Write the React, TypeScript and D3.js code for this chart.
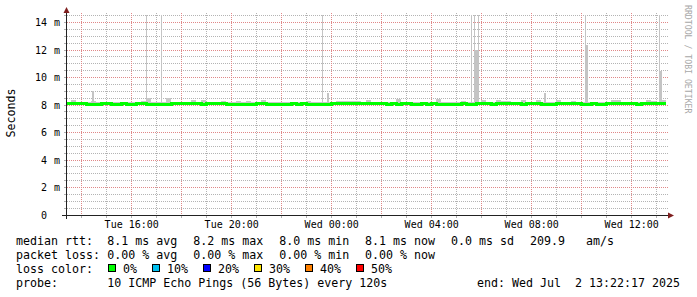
import React from "react";
import * as d3 from "d3";

// ---------- data ----------
const START = "2025-07-01T13:22:17Z";
const END = "2025-07-02T13:22:17Z";
const BUCKET_MINUTES = 12;

const medianRtt = [
  8.10, 8.10, 8.09, 8.09, 8.06, 8.04, 8.07, 8.08, 8.10, 8.06, 8.05, 8.08, 8.07, 8.06, 8.09, 8.08, 8.05, 8.04, 8.03, 8.05, 8.04, 8.08, 8.10, 8.11, 8.09, 8.08, 8.10, 8.07, 8.08, 8.09,
  8.08, 8.09, 8.07, 8.05, 8.04, 8.06, 8.07, 8.05, 8.08, 8.09, 8.07, 8.04, 8.03, 8.06, 8.07, 8.08, 8.07, 8.08, 8.06, 8.05, 8.02, 8.04, 8.06, 8.09, 8.12, 8.13, 8.12, 8.14, 8.13, 8.12,
  8.13, 8.11, 8.10, 8.09, 8.07, 8.08, 8.07, 8.09, 8.08, 8.06, 8.07, 8.08, 8.07, 8.08, 8.06, 8.07, 8.05, 8.04, 8.07, 8.08, 8.06, 8.07, 8.09, 8.10, 8.08, 8.06, 8.09, 8.11, 8.12, 8.09,
  8.08, 8.07, 8.10, 8.11, 8.09, 8.07, 8.06, 8.05, 8.08, 8.09, 8.10, 8.11, 8.09, 8.06, 8.07, 8.08, 8.07, 8.06, 8.08, 8.09, 8.11, 8.10, 8.09, 8.08, 8.07, 8.09, 8.10, 8.11, 8.09, 8.10,
];

const smokeHigh = [
  8.24, 8.36, 8.22, 8.20, 8.22, 8.26, 8.21, 8.24, 8.22, 8.20, 8.23, 8.21, 8.24, 8.20, 8.22, 8.26, 8.50, 8.24, 8.20, 8.22,
  8.49, 8.23, 8.25, 8.22, 8.24, 8.40, 8.22, 8.35, 8.24, 8.22, 8.21, 8.30, 8.22, 8.20, 8.30, 8.21, 8.30, 8.22, 8.24, 8.40,
  8.24, 8.20, 8.19, 8.22, 8.21, 8.23, 8.22, 8.24, 8.30, 8.22, 8.20, 8.19, 8.22, 8.24, 8.26, 8.30, 8.27, 8.28, 8.26, 8.25,
  8.35, 8.25, 8.24, 8.22, 8.21, 8.23, 8.45, 8.24, 8.22, 8.21, 8.22, 8.23, 8.21, 8.22, 8.46, 8.22, 8.20, 8.19, 8.22, 8.30,
  8.22, 8.21, 8.24, 8.35, 8.24, 8.22, 8.35, 8.26, 8.27, 8.24, 8.22, 8.40, 8.24, 8.25, 8.35, 8.22, 8.21, 8.20, 8.40, 8.24,
  8.25, 8.26, 8.24, 8.21, 8.22, 8.23, 8.22, 8.21, 8.22, 8.35, 8.40, 8.25, 8.24, 8.23, 8.22, 8.24, 8.35, 8.26, 8.24, 8.40,
];

const smokeLow = [
  7.98, 7.97, 7.99, 7.98, 7.96, 7.94, 7.97, 7.98, 7.99, 7.96, 7.95, 7.98, 7.97, 7.96, 7.99, 7.98, 7.95, 7.94, 7.93, 7.95,
  7.94, 7.98, 7.99, 8.00, 7.99, 7.98, 7.99, 7.97, 7.98, 7.99, 7.98, 7.99, 7.97, 7.95, 7.94, 7.96, 7.97, 7.95, 7.98, 7.99,
  7.97, 7.94, 7.93, 7.96, 7.97, 7.98, 7.97, 7.98, 7.96, 7.95, 7.92, 7.94, 7.96, 7.98, 8.00, 8.01, 8.00, 8.02, 8.01, 8.00,
  8.01, 8.00, 7.99, 7.98, 7.96, 7.97, 7.96, 7.98, 7.97, 7.95, 7.96, 7.97, 7.96, 7.97, 7.95, 7.96, 7.94, 7.93, 7.96, 7.97,
  7.95, 7.96, 7.98, 7.99, 7.97, 7.95, 7.98, 8.00, 8.01, 7.98, 7.97, 7.96, 7.99, 8.00, 7.98, 7.96, 7.95, 7.94, 7.97, 7.98,
  7.99, 8.00, 7.98, 7.95, 7.96, 7.97, 7.96, 7.95, 7.97, 7.98, 8.00, 7.99, 7.98, 7.97, 7.96, 7.98, 7.99, 8.00, 7.98, 7.99,
];

const spikeStarts = [
  "2025-07-01T14:24:36Z", "2025-07-01T16:34:48Z", "2025-07-01T17:10:00Z", "2025-07-01T23:37:00Z",
  "2025-07-01T23:49:00Z", "2025-07-02T05:35:00Z", "2025-07-02T05:42:36Z", "2025-07-02T05:50:00Z",
  "2025-07-02T05:42:36Z", "2025-07-02T08:29:00Z", "2025-07-02T10:09:00Z", "2025-07-02T10:09:00Z",
  "2025-07-02T13:05:00Z", "2025-07-02T13:05:00Z",
];
const spikeEnds = [
  "2025-07-01T14:29:24Z", "2025-07-01T16:37:12Z", "2025-07-01T17:12:24Z", "2025-07-01T23:39:24Z",
  "2025-07-01T23:53:48Z", "2025-07-02T05:37:24Z", "2025-07-02T05:45:00Z", "2025-07-02T05:52:24Z",
  "2025-07-02T05:52:24Z", "2025-07-02T08:33:48Z", "2025-07-02T10:11:24Z", "2025-07-02T10:16:12Z",
  "2025-07-02T13:07:24Z", "2025-07-02T13:12:12Z",
];
const spikeTops = [8.99, 15, 15, 15, 8.87, 15, 15, 15, 12.0, 8.9, 15, 12.4, 15, 10.45];

const yTicks = [0, 2, 4, 6, 8, 10, 12, 14];
const Y_MAX = 14.55;

const rttLabels = ["median rtt:", "8.1 ms avg", "8.2 ms max", "8.0 ms min", "8.1 ms now", "0.0 ms sd", "209.9", "am/s"];
const lossLabels = ["packet loss:", "0.00 % avg", "0.00 % max", "0.00 % min", "0.00 % now"];
const lossColorTitle = "loss color:";
const lossColorNames = ["0%", "10%", "20%", "30%", "40%", "50%"];
const lossColors = ["#00ff00", "#00c0f0", "#0000ff", "#ffe600", "#ff8000", "#ff0000"];
const probeLabels = ["probe:", "10 ICMP Echo Pings (56 Bytes) every 120s", "end: Wed Jul\u00A0\u00A02 13:22:17 2025"];

// ---------- layout ----------
const W = 697;
const H = 297;
const X0 = 66;
const X1 = 666;
const Y0 = 215;
const YTOP = 15;
const MONO = "'DejaVu Sans Mono', monospace";
const LEG_FS = 11.63;
const AX_FS = 10;
const CHAR_W = 7;
const legendCols1 = [16, 107.3, 193.3, 279.3, 365, 451, 530, 586];
const legendRowsY = [245, 259, 273, 287];

export default function App() {
  const startD = new Date(START);
  const endD = new Date(END);
  const x = d3.scaleUtc().domain([startD, endD]).range([X0, X1]);
  const y = d3.scaleLinear().domain([0, Y_MAX]).range([Y0, YTOP]);

  const bucketTime = (i: number) => d3.utcMinute.offset(startD, i * BUCKET_MINUTES);

  const hours = d3.utcHour.range(startD, endD);
  const minorYs = d3.range(0, Y_MAX, 0.5);
  const labelHours = hours.filter((h) => h.getUTCHours() % 4 === 0);
  const fmt = d3.utcFormat("%a %H:%M");

  const medianPts: [Date, number][] = medianRtt.map((v, i) => [bucketTime(i), v]);
  medianPts.push([endD, medianRtt[medianRtt.length - 1]]);
  const line = d3
    .line<[Date, number]>()
    .x((d) => x(d[0]))
    .y((d) => y(d[1]))
    .curve(d3.curveStepAfter);

  const px = (v: number) => Math.floor(v) + 0.5;

  let cursor = 108;
  const lossItems = lossColorNames.map((name, i) => {
    const bx = cursor;
    const tx = bx + 15;
    cursor = tx + name.length * CHAR_W + 15;
    return { name, color: lossColors[i], bx, tx };
  });

  return (
    <svg
      width={W}
      height={H}
      style={{ position: "absolute", left: 0, top: 0, background: "#fff" }}
      xmlns="http://www.w3.org/2000/svg"
    >
      <defs>
        <clipPath id="plot">
          <rect x={X0} y={YTOP} width={X1 - X0} height={Y0 - YTOP} />
        </clipPath>
      </defs>
      <rect x={0} y={0} width={W} height={H} fill="#fff" />

      {/* minor grid */}
      <g stroke="#b4b4b4" strokeWidth={1} strokeDasharray="1 1">
        {minorYs.filter((v) => v % 2 !== 0).map((v) => (
          <line key={"hy" + v} x1={X0 - 1} x2={X1 + 2} y1={px(y(v))} y2={px(y(v))} />
        ))}
        {hours.filter((h) => h.getUTCHours() % 2 !== 0).map((h) => (
          <line key={"vx" + h.getTime()} x1={px(x(h))} x2={px(x(h))} y1={YTOP - 2} y2={Y0 + 1} />
        ))}
      </g>
      {/* major grid */}
      <g stroke="#e08888" strokeWidth={1} strokeDasharray="1 1">
        {yTicks.filter((v) => v > 0).map((v) => (
          <line key={"my" + v} x1={X0 - 1} x2={X1 + 2} y1={px(y(v))} y2={px(y(v))} />
        ))}
        {hours.filter((h) => h.getUTCHours() % 2 === 0).map((h) => (
          <line key={"mx" + h.getTime()} x1={px(x(h))} x2={px(x(h))} y1={YTOP - 2} y2={Y0 + 1} />
        ))}
      </g>
      {/* ticks */}
      <g stroke="#b0b0b0" strokeWidth={1}>
        {minorYs.map((v) => (
          <line key={"ty" + v} x1={X0 - 2} x2={X0} y1={px(y(v))} y2={px(y(v))} />
        ))}
        {hours.map((h) => (
          <line key={"tx" + h.getTime()} x1={px(x(h))} x2={px(x(h))} y1={Y0} y2={Y0 + 3} />
        ))}
      </g>

      {/* smoke */}
      <g clipPath="url(#plot)" shapeRendering="crispEdges">
        {smokeHigh.map((hi, i) => {
          const xa = x(bucketTime(i));
          const xb = i + 1 < smokeHigh.length ? x(bucketTime(i + 1)) : X1;
          return (
            <rect
              key={"s" + i}
              x={xa}
              width={xb - xa}
              y={y(hi)}
              height={y(smokeLow[i]) - y(hi)}
              fill="#c8c8c8"
            />
          );
        })}
        {spikeStarts.map((s, i) => {
          const xa = x(new Date(s));
          const xb = x(new Date(spikeEnds[i]));
          const top = y(Math.min(spikeTops[i], Y_MAX));
          return (
            <rect key={"sp" + i} x={xa} width={Math.max(1, xb - xa)} y={top} height={y(8.05) - top} fill="#c4c4c4" />
          );
        })}
        <path d={line(medianPts) || ""} fill="none" stroke="#00ff00" strokeWidth={3} />
      </g>

      {/* axes */}
      <g stroke="#222" strokeWidth={1} shapeRendering="crispEdges">
        <line x1={X0 - 4} x2={X1 + 4} y1={Y0 + 0.5} y2={Y0 + 0.5} />
        <line x1={X0 + 0.5} x2={X0 + 0.5} y1={Y0 + 4} y2={YTOP - 4} />
      </g>
      <path d={`M${X0 + 0.5 - 3},${YTOP - 2} L${X0 + 0.5 + 3},${YTOP - 2} L${X0 + 0.5},${YTOP - 8} Z`} fill="#7f1f1f" />
      <path d={`M${X1 + 2},${Y0 + 0.5 - 3} L${X1 + 2},${Y0 + 0.5 + 3} L${X1 + 8},${Y0 + 0.5} Z`} fill="#7f1f1f" />

      {/* y labels */}
      <g fontFamily={MONO} fontSize={AX_FS} fill="#000">
        {yTicks.map((v) => (
          <g key={"yl" + v}>
            <text x={47} y={y(v) + 3.5} textAnchor="end">{v}</text>
            {v !== 0 && <text x={54} y={y(v) + 3.5}>m</text>}
          </g>
        ))}
        {labelHours.map((h) => (
          <text key={"xl" + h.getTime()} x={x(h)} y={227.5} textAnchor="middle">{fmt(h)}</text>
        ))}
      </g>

      {/* axis title */}
      <text transform="translate(15,113) rotate(-90)" textAnchor="middle" fontFamily={MONO} fontSize={LEG_FS} fill="#000">
        Seconds
      </text>
      <text transform="translate(685,5) rotate(90)" fontFamily={MONO} fontSize={8.2} fill="#a8a8a8">
        RRDTOOL / TOBI OETIKER
      </text>

      {/* legend */}
      <g fontFamily={MONO} fontSize={LEG_FS} fill="#000">
        {rttLabels.map((t, i) => (
          <text key={"r" + i} x={legendCols1[i]} y={legendRowsY[0]}>{t}</text>
        ))}
        {lossLabels.map((t, i) => (
          <text key={"l" + i} x={legendCols1[i]} y={legendRowsY[1]}>{t}</text>
        ))}
        <text x={16} y={legendRowsY[2]}>{lossColorTitle}</text>
        {lossItems.map((it) => (
          <g key={it.name}>
            <rect x={it.bx + 0.5} y={legendRowsY[2] - 8.5} width={7} height={7} fill={it.color} stroke="#000" strokeWidth={1} />
            <text x={it.tx} y={legendRowsY[2]}>{it.name}</text>
          </g>
        ))}
        <text x={16} y={legendRowsY[3]}>{probeLabels[0]}</text>
        <text x={107.3} y={legendRowsY[3]}>{probeLabels[1]}</text>
        <text x={680} y={legendRowsY[3]} textAnchor="end">{probeLabels[2]}</text>
      </g>
    </svg>
  );
}
